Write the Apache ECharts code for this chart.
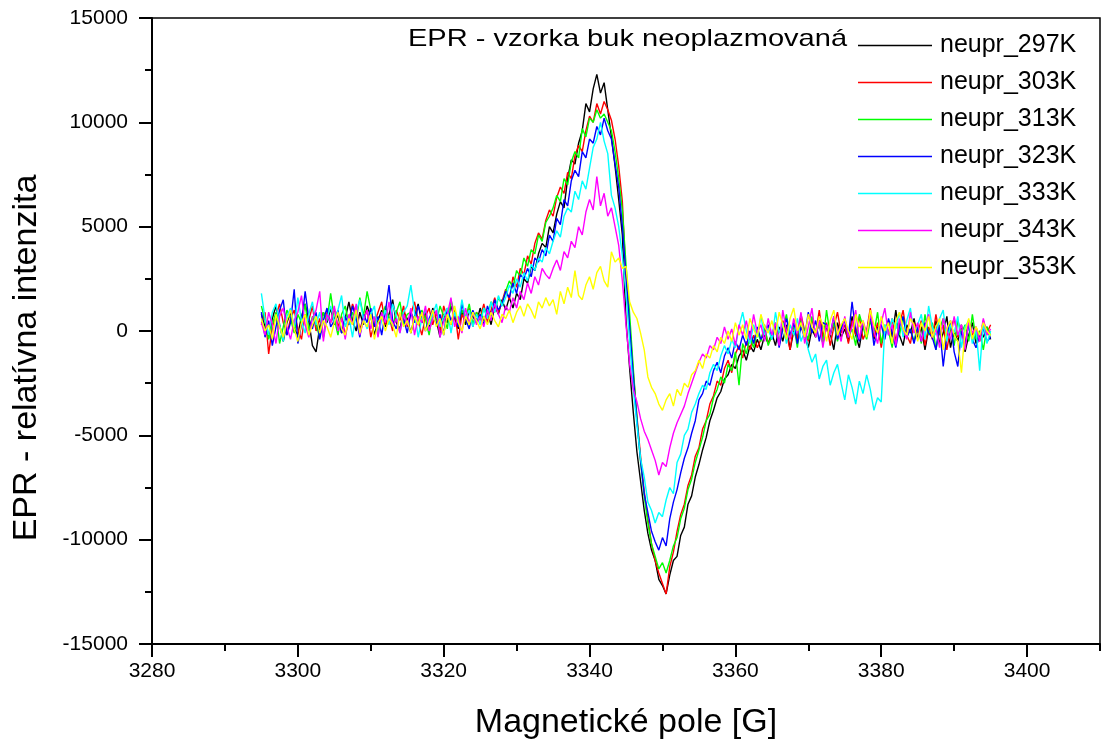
<!DOCTYPE html>
<html>
<head>
<meta charset="utf-8">
<script src="https://cdn.jsdelivr.net/npm/echarts@6/dist/echarts.min.js"></script>
<style>
html,body{margin:0;padding:0;background:#fff;}
#chart{width:1101px;height:745px;}
</style>
</head>
<body>
<div id="chart"></div>
<script>
// ---- data ----
const chartTitle = 'EPR - vzorka buk neoplazmovaná';
const xAxisTitle = 'Magnetické pole [G]';
const yAxisTitle = 'EPR - relatívna intenzita';
const seriesNames = ['neupr_297K','neupr_303K','neupr_313K','neupr_323K','neupr_333K','neupr_343K','neupr_353K'];
const seriesColors = ['#000000','#ff0000','#00ff00','#0000ff','#00ffff','#ff00ff','#ffff00'];
const xMajorTicks = [3280,3300,3320,3340,3360,3380,3400];
const xMinorTicks = [3290,3310,3330,3350,3370,3390,3410];
const fieldStart = 3295;   // G, first sample
const fieldStep = 0.5;     // G, sampling step

const neupr_297K = [
800,200,-300,600,1200,300,-500,400,900,100,-200,700,1300,500,-700,-1000,200,900,400,1100,
300,800,-100,600,1400,500,0,900,300,1200,700,-200,500,1000,200,800,1500,400,100,900,
600,-100,700,1300,400,900,200,1100,500,-300,800,400,1200,600,100,900,300,1000,700,400,
1100,500,900,300,1200,800,1500,1000,1600,1100,1800,1500,2500,2300,3100,2900,3700,4200,4000,5000,
4700,5600,6200,5900,7300,8200,8000,9000,9600,10900,10500,11600,12300,11400,11900,10600,9300,7900,6300,4600,
500,-1800,-3900,-5800,-7200,-8600,-9700,-10500,-11000,-11900,-12200,-12600,-11700,-11000,-10800,-9800,-9400,-8300,-7900,-7000,
-6400,-5700,-5100,-4300,-3800,-3200,-2900,-2300,-2100,-1600,-1800,-1200,-900,-1400,-700,-1000,-400,-900,-200,-600,
-100,-700,200,-500,300,-900,0,-400,600,-200,-800,100,-300,500,-600,200,-100,-900,400,-300,
100,-500,700,-200,-800,300,-100,900,-400,200,-600,0,500,-300,1000,-200,-700,300,-100,600,
-400,200,-900,100,-300,500,-600,-100,700,-800,0,-500,300,-1000,-200,400,-600,0,-300,200,
-400];

const neupr_303K = [
300,900,-1100,200,700,1300,400,-200,600,1000,100,-400,800,500,1200,0,600,-300,900,400,
1100,200,700,-200,500,1300,800,100,600,1000,-300,400,900,1400,300,700,0,1000,500,1200,
200,800,1400,500,-200,700,1100,300,900,0,1200,600,300,1000,-400,800,500,1100,200,900,
600,1300,400,1000,1600,900,1400,2000,1500,2600,2100,3000,2700,3600,3200,4200,4700,4400,5300,5800,
5500,6400,6900,6600,7600,7300,8400,8900,8600,9600,10300,10000,10900,10400,11000,10600,10100,9200,7900,6200,
2500,300,-2000,-4100,-6000,-7700,-9000,-10200,-11000,-11600,-12100,-12600,-11300,-10600,-9600,-8800,-8300,-7400,-6900,-6000,
-5600,-4700,-4300,-3500,-3100,-2400,-2600,-1800,-1400,-2000,-1100,-700,-1300,-500,-900,-200,-800,-400,100,-600,
-300,200,-700,500,-100,-900,300,-400,800,0,-500,600,-200,1000,-300,400,-700,200,900,-100,
300,-600,500,-200,700,-400,0,1100,-300,400,-800,200,-100,600,-500,300,1000,-200,-600,400,
-100,500,-700,200,-400,800,-200,300,-900,100,600,-300,0,-700,400,-200,200,-500,500,-100,
300];

const neupr_313K = [
1200,500,-400,300,900,-600,200,1000,600,-100,800,400,1300,0,700,300,-300,900,500,1800,
600,-200,800,1200,300,900,500,1600,700,1900,1000,400,-100,700,1200,600,200,900,1400,300,
800,900,500,300,1000,600,-200,900,400,1200,700,100,1500,800,400,1000,600,1300,300,900,
500,1100,700,1400,900,1600,1300,1900,2400,2100,2900,2600,3500,3100,3900,3700,4600,4300,5200,5500,
5900,6500,6200,7300,7000,8100,8600,8300,9700,9300,10200,10000,10600,10200,10400,10000,9600,8600,7300,5800,
3200,800,-1800,-4200,-6300,-7900,-9200,-10200,-10800,-11400,-11100,-11600,-11000,-10300,-9900,-9000,-8500,-7600,-7100,-6300,
-5700,-5100,-4300,-4000,-3200,-2800,-2200,-2500,-1600,-1900,-1000,-2600,-600,-1100,-300,-800,0,-500,300,-700,
-200,400,-600,100,800,-300,300,-800,500,0,-400,700,-100,300,-600,1000,-200,400,-500,200,
600,-300,100,-700,800,200,-400,500,-100,900,-600,300,0,-800,400,-200,700,-300,100,-500,
300,-600,800,-200,400,-900,100,600,-300,200,-700,500,-100,300,-500,800,-400,0,-900,200,
-200];

const neupr_323K = [
900,-300,500,-700,200,1000,1500,-200,400,2000,-600,300,1900,600,100,900,-400,500,1100,200,
500,1000,-100,700,300,1200,600,-300,800,400,1100,200,700,-200,900,2200,500,100,800,600,
-100,900,400,1200,700,0,600,1000,300,800,-200,1100,500,900,200,1300,600,100,1000,500,
800,300,1200,700,1500,1000,1300,1900,1600,2300,1800,2700,2500,3000,2600,3500,3300,3900,3600,4600,
4300,5400,5100,6300,6000,7200,7700,7400,8600,8300,9200,9000,9800,9400,10200,9600,9200,8000,6900,5000,
2700,200,-2200,-4300,-6200,-7800,-8700,-9600,-10100,-10500,-9900,-10300,-9000,-8200,-7600,-6800,-6100,-5600,-4900,-4300,
-3300,-3000,-2400,-2600,-1900,-1500,-2000,-1200,-800,-1300,-500,-900,-200,-700,0,-600,200,-400,-100,300,
-400,300,-800,100,600,-200,400,-600,200,-300,900,-100,500,-500,400,300,-200,700,-400,100,
500,-300,1400,0,-500,400,-200,800,-700,100,300,-400,600,-100,-800,200,700,-300,100,-600,
200,-500,400,-100,-300,-900,300,-1700,-200,500,-1000,-1700,0,-600,300,-400,-800,-200,100,-500,
-300];

const neupr_333K = [
1800,600,-200,900,1300,300,-500,700,1100,200,1600,500,-100,800,1400,300,900,-300,600,1200,
400,1000,1700,200,700,-300,900,1500,600,100,800,1200,-200,500,1000,300,1300,700,-100,900,
1200,2200,900,-300,600,1000,300,800,1300,200,700,1100,-100,900,400,1500,600,1000,200,800,
300,1100,600,1400,900,1700,1200,1600,2200,1800,2500,2100,2800,2400,3200,2900,3500,3300,4000,3700,
4300,4800,4500,5500,5900,5700,6700,6300,7200,6800,7800,8800,9200,10000,9100,8500,6500,5900,5000,3600,
1800,-500,-2800,-4500,-6100,-7000,-8200,-8600,-9200,-8700,-8900,-8100,-7500,-7800,-6300,-5900,-5000,-4700,-3900,-3500,
-3000,-2600,-2800,-2000,-1600,-1900,-1200,-700,-1100,-400,-800,200,900,0,-600,300,-300,700,-200,100,
-400,900,-100,400,-600,300,-200,600,-500,0,-900,-1500,-1100,-2300,-1700,-1400,-2600,-2000,-1600,-2500,
-3300,-2100,-2700,-3500,-2400,-3000,-2100,-2800,-3800,-3200,-3400,300,-200,600,100,900,-300,500,1100,-100,
300,800,-400,1200,200,-200,600,1000,-500,300,-100,700,-800,200,500,-600,100,-1900,400,-600,
0];

const neupr_343K = [
400,-200,900,300,-600,700,1100,200,-400,500,900,1700,300,-300,600,1000,1900,-500,800,400,
1200,0,600,-400,800,300,1300,-200,500,1000,100,700,-300,900,400,1400,200,600,-100,800,
300,1100,-200,700,400,1200,0,600,1000,-300,500,800,1600,200,700,-100,1100,400,900,300,
700,200,1000,500,1300,800,400,1200,900,1600,1100,1900,1500,2300,1800,2600,2200,3000,2700,2500,
3000,3400,2900,3800,3500,4300,4000,5000,4600,5700,6300,5800,7400,6000,6600,5500,5900,5000,4100,2400,
300,-1600,-2800,-3400,-4200,-4800,-5200,-5700,-6200,-6900,-6300,-6500,-5600,-4900,-4400,-4000,-3600,-3000,-2500,-2000,
-1500,-1100,-1300,-700,-900,-300,-600,200,-400,100,-700,300,-200,500,-400,800,-100,300,-500,600,
-200,400,-700,1000,0,-400,600,-100,900,-600,200,1100,-300,500,-800,300,-200,700,100,-500,
700,-300,200,1000,-400,500,-100,800,0,-600,400,1100,-200,300,-700,600,100,-400,900,-100,
400,-500,200,800,-300,100,-800,600,0,-400,700,-200,300,-900,500,-100,200,-500,600,-200,
100];

const neupr_353K = [
600,0,300,-400,800,200,-300,500,1000,100,-500,400,800,-200,300,700,-100,500,200,-300,
400,900,100,-200,600,300,1000,-100,500,200,800,-400,400,700,0,600,300,-300,900,200,
500,-100,700,300,900,0,400,1000,200,600,-200,800,300,1200,400,0,700,300,900,500,
100,700,300,900,500,200,800,600,1000,400,900,1200,700,1300,1000,600,1400,1100,1600,1200,
1500,800,1900,1300,2100,1600,2900,1700,1500,2200,2600,2000,2800,3100,2400,2100,3800,3300,3500,3000,
3100,1400,900,600,-100,-900,-2200,-2700,-3000,-3500,-3800,-3300,-3000,-3600,-2800,-3100,-2500,-2700,-2100,-1900,
-1400,-1800,-1100,-1300,-700,-1000,-300,-600,0,-500,400,-200,300,-400,600,100,-300,800,200,-100,
500,-200,900,300,-400,600,1100,0,400,-300,800,200,-100,700,300,-500,500,1000,-200,300,
600,0,-400,800,200,500,-300,1000,300,-100,700,0,400,-600,500,900,100,-200,600,300,
-500,400,0,700,-300,200,600,-900,100,500,-200,-500,-2000,0,600,-400,200,-200,400,0,
-200];

const seriesValues = [neupr_297K, neupr_303K, neupr_313K, neupr_323K, neupr_333K, neupr_343K, neupr_353K];

// ---- chart ----
const FONT = '"Liberation Sans", Arial, Helvetica, sans-serif';
const chart = echarts.init(document.getElementById('chart'), null, {renderer: 'canvas'});

const series = seriesNames.map((name, k) => ({
  name: name,
  type: 'line',
  xAxisIndex: 0,
  yAxisIndex: 0,
  symbol: 'none',
  showSymbol: false,
  animation: false,
  lineStyle: {color: seriesColors[k], width: 1.4},
  itemStyle: {color: seriesColors[k]},
  emphasis: {disabled: true},
  data: seriesValues[k].map((v, i) => [fieldStart + i * fieldStep, v])
}));

const option = {
  animation: false,
  backgroundColor: '#ffffff',
  textStyle: {fontFamily: FONT, color: '#000'},
  grid: {
    left: 152, right: 1, top: 18, bottom: 97,
    show: true, borderColor: '#000', borderWidth: 1.5, backgroundColor: 'transparent'
  },
  legend: {
    orient: 'vertical',
    left: 858, top: 33,
    padding: 0,
    icon: 'rect',
    itemWidth: 74, itemHeight: 1.5,
    itemGap: 12,
    data: seriesNames,
    textStyle: {fontFamily: FONT, fontSize: 25, color: '#000', padding: [0, 0, 0, 3]},
    selectedMode: false
  },
  graphic: [{
    type: 'text',
    x: 408, y: 39,
    scaleX: 1.21,
    z: 100,
    style: {text: chartTitle, font: '24px ' + FONT, fill: '#000', align: 'left', verticalAlign: 'middle'}
  }],
  xAxis: [{
    type: 'value',
    min: 3280, max: 3410, interval: 20,
    position: 'bottom',
    name: xAxisTitle,
    nameLocation: 'middle',
    nameGap: 62,
    nameTextStyle: {fontFamily: FONT, fontSize: 34, color: '#000'},
    axisLine: {show: true, onZero: false, lineStyle: {color: '#000', width: 2}},
    axisTick: {show: true, length: 13, customValues: xMajorTicks, lineStyle: {color: '#000', width: 2}},
    axisLabel: {customValues: xMajorTicks, fontFamily: FONT, fontSize: 21, color: '#000', margin: 17, formatter: v => String(v)},
    splitLine: {show: false}
  }, {
    type: 'value',
    min: 3280, max: 3410,
    position: 'bottom',
    axisLine: {show: false, onZero: false},
    axisTick: {show: true, length: 7, customValues: xMinorTicks, lineStyle: {color: '#000', width: 2}},
    axisLabel: {show: false},
    splitLine: {show: false}
  }],
  yAxis: [{
    type: 'value',
    min: -15000, max: 15000, interval: 5000,
    position: 'left',
    name: yAxisTitle,
    nameLocation: 'middle',
    nameGap: 108,
    nameTextStyle: {fontFamily: FONT, fontSize: 34, color: '#000', padding: [0, 54, 0, 0]},
    axisLine: {show: true, onZero: false, lineStyle: {color: '#000', width: 2}},
    axisTick: {show: true, length: 13, lineStyle: {color: '#000', width: 2}},
    minorTick: {show: true, splitNumber: 2, length: 7, lineStyle: {color: '#000', width: 2}},
    axisLabel: {fontFamily: FONT, fontSize: 21, color: '#000', margin: 24, formatter: v => String(v)},
    splitLine: {show: false},
    minorSplitLine: {show: false}
  }],
  series: series
};

chart.setOption(option);
</script>
</body>
</html>
